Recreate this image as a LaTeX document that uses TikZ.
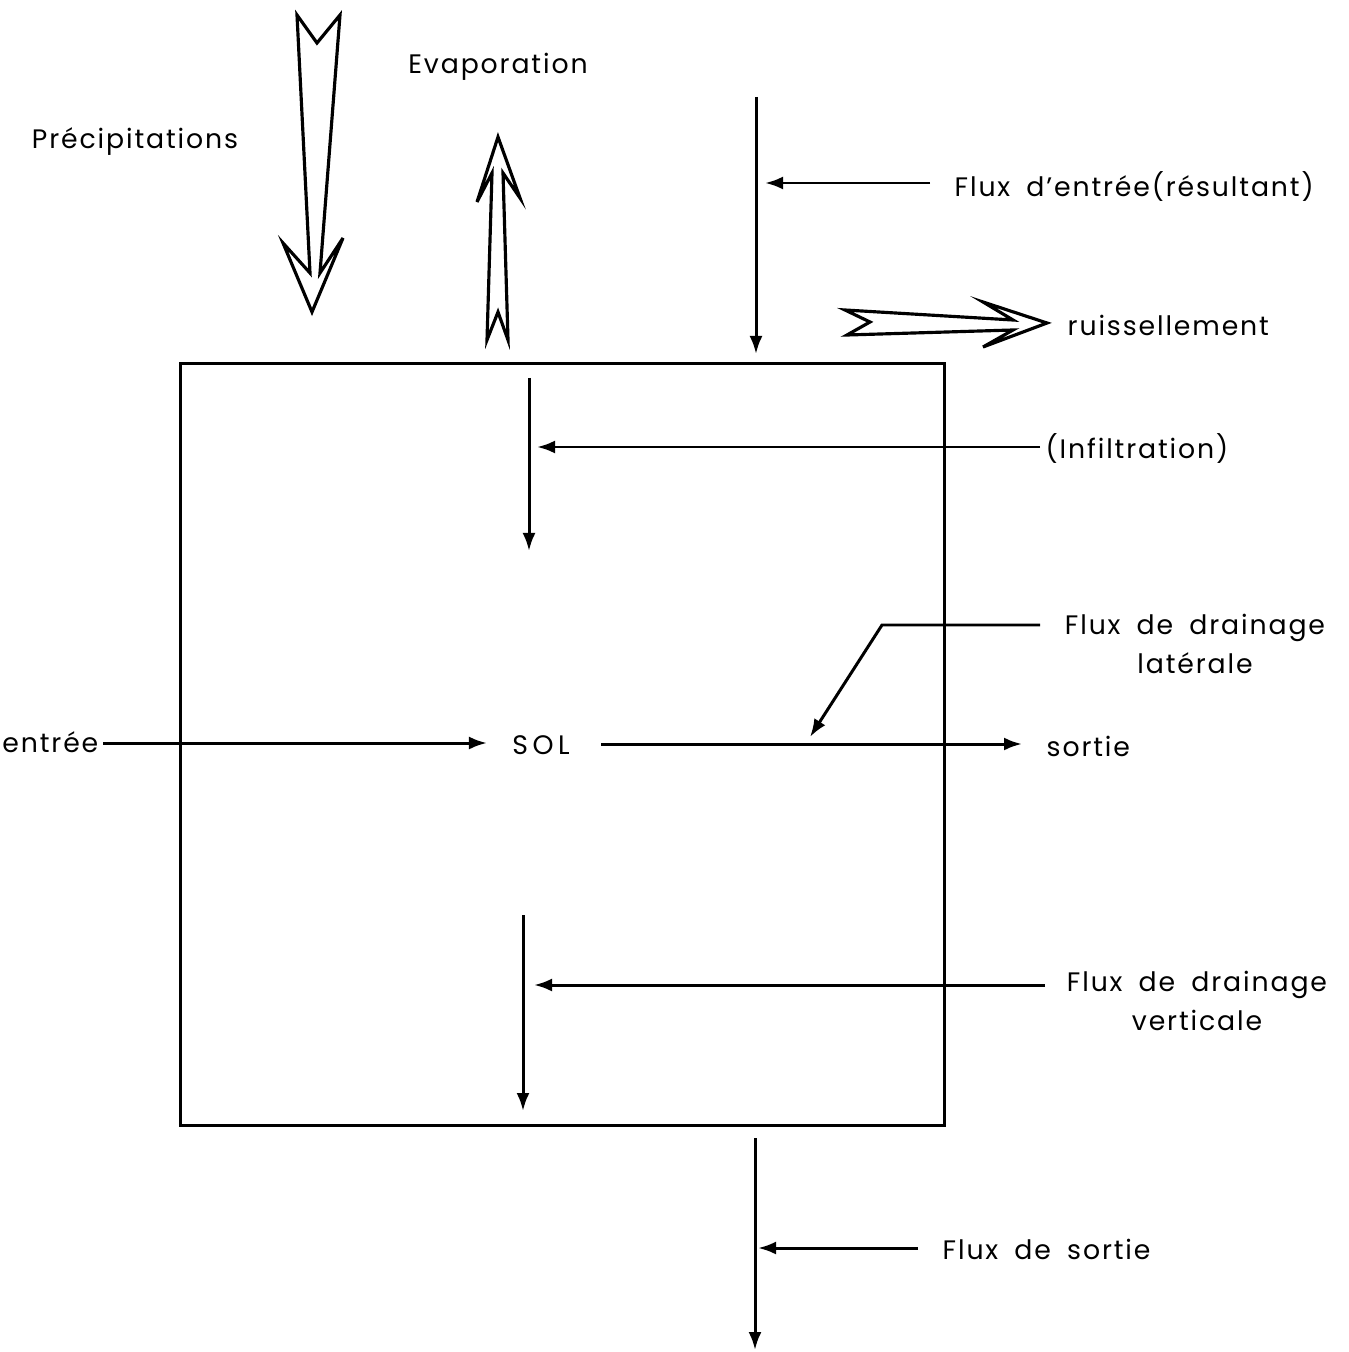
\documentclass[tikz,border=0pt]{standalone}
\usepackage{fontspec}
\setmainfont{Poppins}[LetterSpace=7,WordSpace=1.8]
\usetikzlibrary{arrows.meta}
\begin{document}
\begin{tikzpicture}[x=0.01cm,y=-0.01cm,
  lw/.style={line width=0.85pt},
  arr/.style={lw,-{Latex[length=1.8mm,width=1.3mm]}},
  hollow/.style={line width=0.9pt,line join=miter},
  lbl/.style={inner sep=0pt,font=\fontsize{7.6}{11}\selectfont,align=center}]
\useasboundingbox (0,0) rectangle (1348,1352);
% soil box
\node[draw,lw,minimum width=7.63cm,minimum height=7.61cm,inner sep=0pt] (box) at (562.5,744.5) {};
% labels
\node[lbl] (prec) at (135,142) {Précipitations};
\node[lbl] (evap) at (498,67) {Evaporation};
\node[lbl,anchor=west] (fe) at (954,187) {Flux d'entrée(résultant)};
\node[lbl,anchor=west] (ruis) at (1067,325) {ruissellement};
\node[lbl,anchor=west] (inf) at (1045,449) {(Infiltration)};
\node[lbl] (fdl) at (1195,644) {Flux de drainage\\latérale};
\node[lbl,anchor=east] (ent) at (99,742) {entrée};
\node[lbl] (sol) at (541,745) {S\,O\,L};
\node[lbl,anchor=west] (sort) at (1046,746) {sortie};
\node[lbl] (fdv) at (1197,1001) {Flux de drainage\\verticale};
\node[lbl,anchor=west] (fs) at (942,1249) {Flux de sortie};
% hollow arrows
\draw[hollow] (297,15) -- (317,43) -- (340,15) -- (320,273) -- (343,238) -- (312,312) -- (283,243) -- (310,273) -- cycle;
\draw[hollow] (498,137) -- (520,198) -- (503,173) -- (508,340) -- (498,312) -- (487,340) -- (492,173) -- (477,202) -- cycle;
\draw[hollow] (845,310) -- (1013,320) -- (983,302) -- (1047,323) -- (983,347) -- (1013,330) -- (847,335) -- (870,322) -- cycle;
% flux d'entree
\coordinate (fe1) at (756,97); \coordinate (fe2) at (756,354);
\draw[arr] (fe1) -- (fe2);
\coordinate (fep) at (930,183); \coordinate (fet) at (765,183);
\draw[arr] (fep) -- (fet);
% infiltration
\coordinate (in1) at (529,378); \coordinate (in2) at (529,551);
\draw[arr] (in1) -- (in2);
\coordinate (inp) at (1040,447); \coordinate (int) at (537,447);
\draw[arr] (inp) -- (int);
% drainage laterale
\coordinate (dl1) at (1040,625); \coordinate (dl2) at (882,625); \coordinate (dl3) at (810,737);
\draw[arr] (dl1) -- (dl2) -- (dl3);
% entree / sortie
\coordinate (en1) at (103,743); \coordinate (en2) at (487,743);
\draw[arr] (en1) -- (en2);
\coordinate (so1) at (601,744); \coordinate (so2) at (1022,744);
\draw[arr] (so1) -- (so2);
% drainage verticale
\coordinate (dv1) at (523,915); \coordinate (dv2) at (523,1111);
\draw[arr] (dv1) -- (dv2);
\coordinate (dvp) at (1045,985); \coordinate (dvt) at (534,985);
\draw[arr] (dvp) -- (dvt);
% flux de sortie
\coordinate (fs1) at (755,1138); \coordinate (fs2) at (755,1350);
\draw[arr] (fs1) -- (fs2);
\coordinate (fsp) at (918,1248); \coordinate (fst) at (758,1248);
\draw[arr] (fsp) -- (fst);
\end{tikzpicture}
\end{document}
